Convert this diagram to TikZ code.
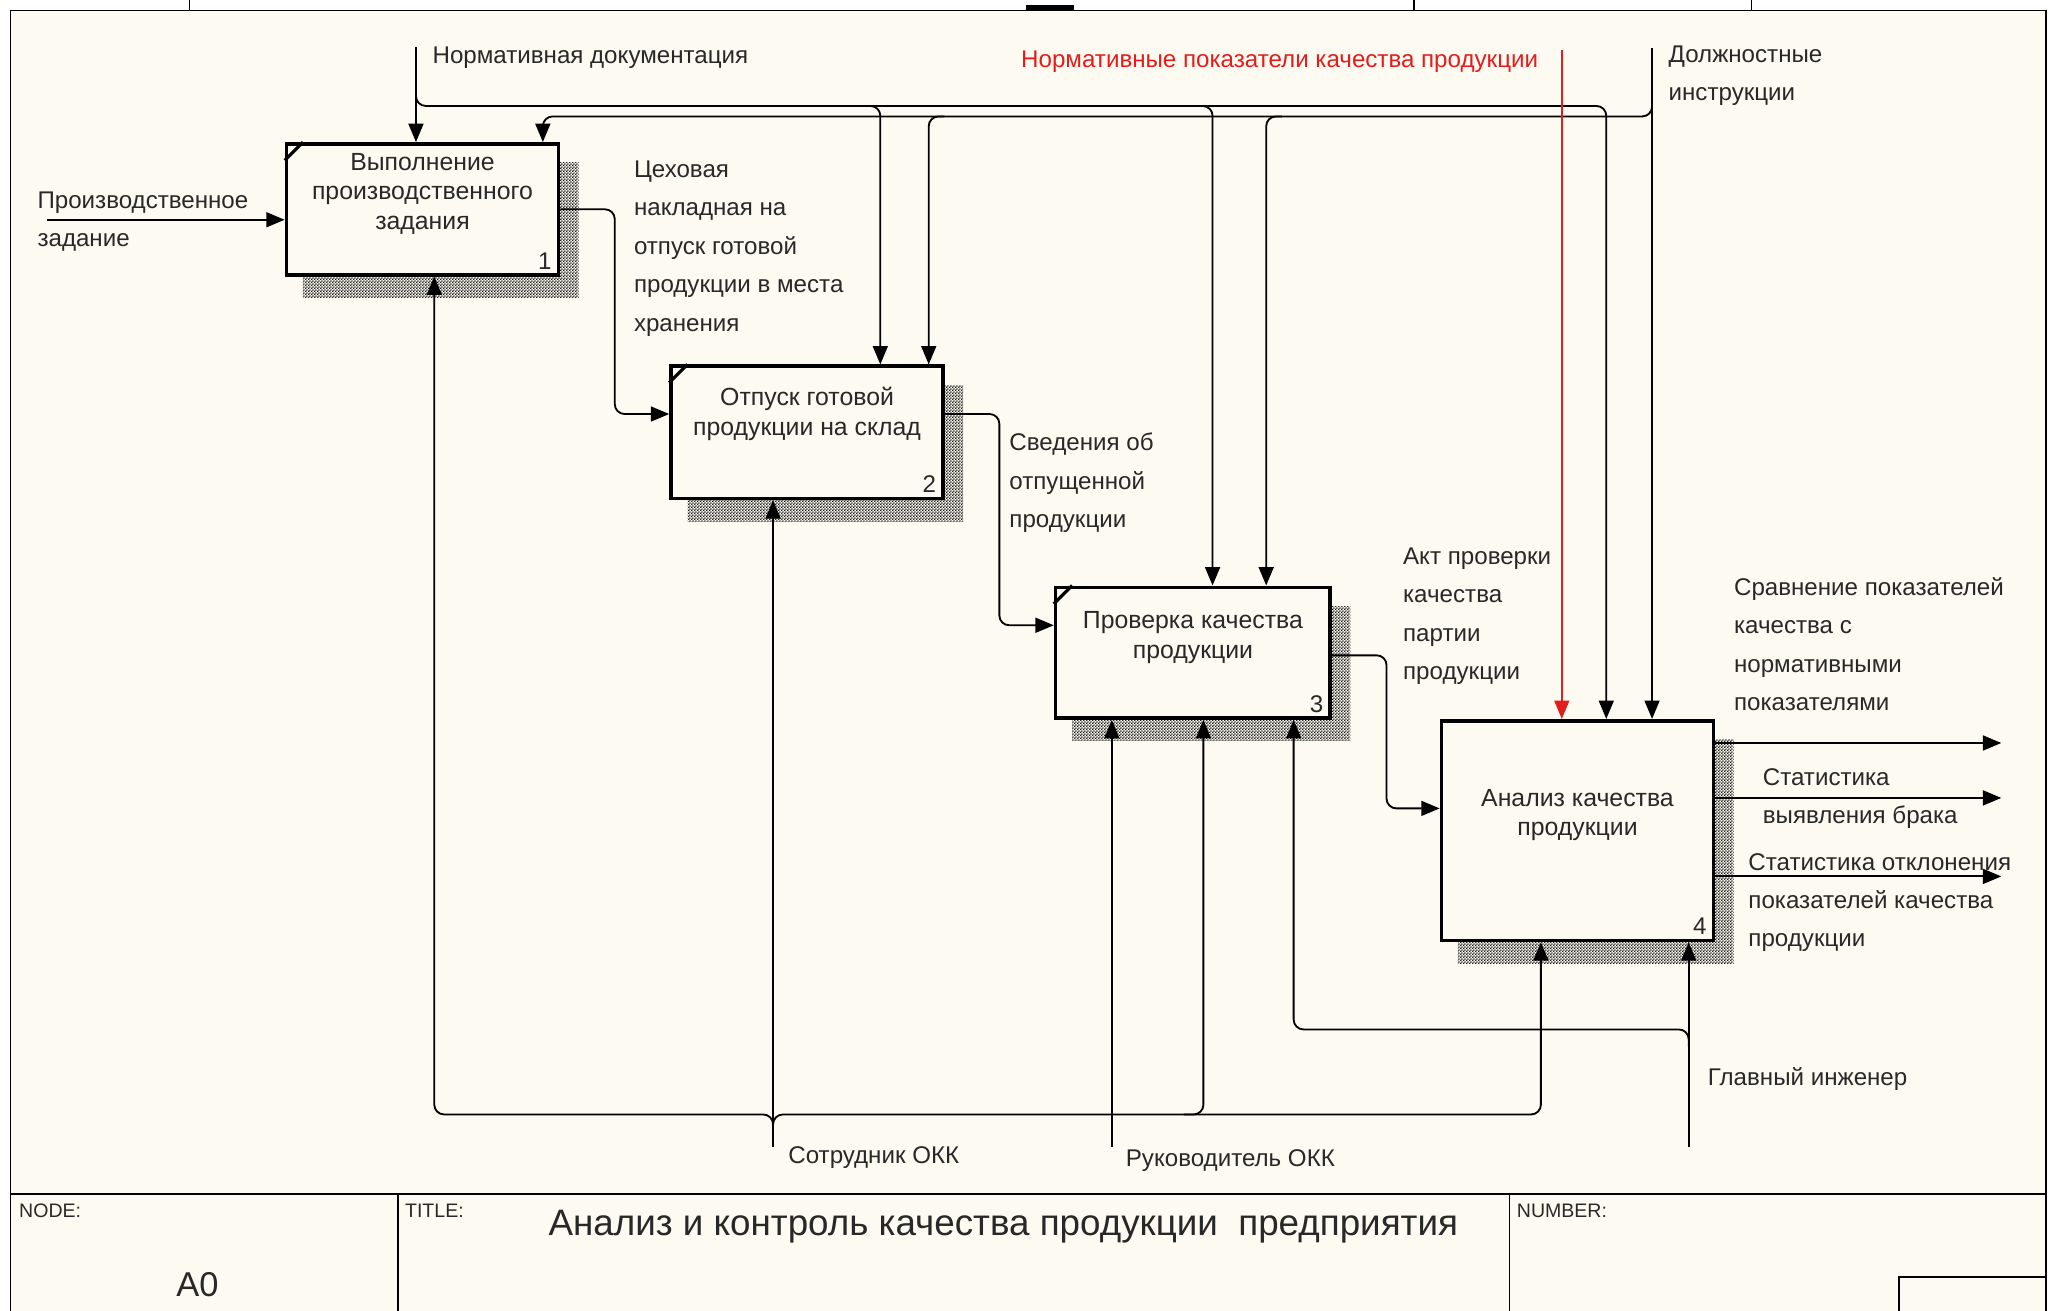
\documentclass[tikz,border=0pt]{standalone}
\usepackage{fontspec}
\setmainfont{Liberation Sans}
\usetikzlibrary{arrows.meta, patterns, backgrounds}
\definecolor{paper}{RGB}{253,250,241}
\definecolor{ink}{RGB}{40,40,40}
\definecolor{normred}{RGB}{228,28,28}
\pgfdeclarepatternformonly{checker}{\pgfqpoint{0pt}{0pt}}{\pgfqpoint{1.4pt}{1.4pt}}{\pgfqpoint{1.4pt}{1.4pt}}{%
  \pgfpathrectangle{\pgfqpoint{0pt}{0pt}}{\pgfqpoint{0.7pt}{0.7pt}}%
  \pgfpathrectangle{\pgfqpoint{0.7pt}{0.7pt}}{\pgfqpoint{0.7pt}{0.7pt}}%
  \pgfusepath{fill}}

\begin{document}
\begin{tikzpicture}[x=0.02cm, y=-0.02cm, > = {Triangle[length=8pt, width=6.5pt]}, line width=0.8pt,
		func/.style={draw, line width=1.6pt, fill=paper, minimum width=4.16cm, inner sep=0},
		ftext/.style={align=center, inner sep=0, text=ink, font=\fontsize{10.8}{12.8}\selectfont},
		fnum/.style={anchor=south east, inner sep=0, text=ink, font=\fontsize{10.5}{12}\selectfont},
		lbl/.style={align=left, anchor=west, inner sep=0, text=ink, font=\fontsize{10.5}{16.7}\selectfont},
		flow/.style={->, rounded corners=0.15cm},
		stamp/.style={anchor=west, inner sep=0, text=ink, font=\fontsize{8.5}{10}\selectfont}]
	\useasboundingbox (0,0) rectangle (1568,1002);
	
	% рамка листа
	\draw[line width=0.6pt] (145,0) -- (145,8) (1081,0) -- (1081,8) (1339,0) -- (1339,8);
	\fill (784,4) rectangle (821,8);
	\draw (8,1002) -- (8,8) -- (1564,8) -- (1564,1002);
	
	% работы
	\node[func, minimum height=2cm] (b1) at (323,160) {};
	\node[func, minimum height=2.02cm] (b2) at (617,330.5) {};
	\node[func, minimum width=4.2cm, minimum height=2cm] (b3) at (912,499) {};
	\node[func, minimum height=3.36cm] (b4) at (1206,635) {};
	\node[ftext] (t1) at ([yshift=0.24cm]b1.center) {Выполнение\\производственного\\задания};
	\node[ftext] (t2) at ([yshift=0.28cm]b2.center) {Отпуск готовой\\продукции на склад};
	\node[ftext] (t3) at ([yshift=0.23cm]b3.center) {Проверка качества\\продукции};
	\node[ftext] (t4) at ([yshift=0.24cm]b4.center) {Анализ качества\\продукции};
	\foreach \b/\n in {b1/1, b2/2, b3/3, b4/4}
		\node[fnum] (num\n) at ([xshift=-0.12cm, yshift=0.1cm]\b.south east) {\n};
	\foreach \b in {b1, b2, b3}
		\draw[line width=1.4pt] ([yshift=-0.28cm]\b.north west) -- ([xshift=0.28cm]\b.north west);
	
	% фон и тени
	\begin{scope}[on background layer]
		\fill[paper] (8,8) rectangle (1564,1002);
		\foreach \b in {b1, b2, b3, b4}
			\fill[pattern=checker, pattern color=black!90] ([xshift=0.28cm, yshift=-0.32cm]\b.south west) rectangle ([xshift=0.28cm, yshift=-0.32cm]\b.north east);
	\end{scope}
	
	% вход
	\coordinate (in1) at (36,168);
	\draw[->] (in1) -- (in1 -| b1.west);
	\node[lbl] (lin) at (28,169.5) {Производственное\\задание};
	
	% связи между работами
	\draw[flow] (b1.east) -- (470,160) |- ([yshift=0.28cm]b2.west);
	\node[lbl] (l12) at (484,190) {Цеховая\\накладная на\\отпуск готовой\\продукции в места\\хранения};
	\draw[flow] ([yshift=0.28cm]b2.east) -- (764,316.5) |- ([yshift=0.42cm]b3.west);
	\node[lbl] (l23) at (771,369) {Сведения об\\отпущенной\\продукции};
	\draw[flow] ([yshift=-0.04cm]b3.east) -- (1060,501) |- ([yshift=0.34cm]b4.west);
	\node[lbl] (l34) at (1072,471) {Акт проверки\\качества\\партии\\продукции};
	
	% выходы
	\coordinate (o1) at (1530,568);
	\coordinate (o2) at (1530,610);
	\coordinate (o3) at (1530,670);
	\foreach \o in {o1, o2, o3}
		\draw[->] (\o -| b4.east) -- (\o);
	\node[lbl] (lo1) at (1325,492.5) {Сравнение показателей\\качества с\\нормативными\\показателями};
	\node[lbl] (lo2) at (1347,610.5) {Статистика\\выявления брака};
	\node[lbl] (lo3) at (1336,690) {Статистика отклонения\\показателей качества\\продукции};
	
	% управление
	\coordinate (nd) at (318,36);
	\coordinate (np) at (1194,38);
	\coordinate (di) at (1263,37);
	\node[lbl] (lnd) at (330,44) {Нормативная документация};
	\node[lbl, text=normred] (lnp) at (780,47) {Нормативные показатели качества продукции};
	\node[lbl] (ldi) at (1275,58) {Должностные\\инструкции};
	\draw[->] (nd) -- (nd |- b1.north);
	\draw[flow] (nd) |- (1228,81) -- (1228,0 |- b4.north);
	\draw[flow] (660,81) -| (673,0 |- b2.north);
	\draw[flow] (914,81) -| (927,0 |- b3.north);
	\draw[->] (di) -- (di |- b4.north);
	\draw[flow] (di |- 0,78) |- (415,89) -- (415,0 |- b1.north);
	\draw[flow] (722,89) -| (710,0 |- b2.north);
	\draw[flow] (980,89) -| (968,0 |- b3.north);
	\draw[->, normred] (np) -- (np |- b4.north);
	
	% механизмы
	\coordinate (so) at (591,877);
	\coordinate (ru) at (850,877);
	\coordinate (gi) at (1291,877);
	\draw[->] (so) -- (so |- b2.south);
	\draw[flow] (591,862) |- (332,852) -- (332,0 |- b1.south);
	\draw[flow] (591,862) |- (1178,852) -- (1178,0 |- b4.south);
	\draw[flow] (905,852) -| (920,0 |- b3.south);
	\draw[->] (ru) -- (ru |- b3.south);
	\draw[->] (gi) -- (gi |- b4.south);
	\draw[flow] (gi |- 0,800) |- (989,787) -- (989,0 |- b3.south);
	\node[lbl] (lso) at (602,885) {Сотрудник ОКК};
	\node[lbl] (lru) at (860,887) {Руководитель ОКК};
	\node[lbl] (lgi) at (1305,825) {Главный инженер};
	
	% штамп
	\draw (8,913) -- (1564,913);
	\draw (304,913) -- (304,1002) (1154,913) -- (1154,1002);
	\draw (1452,1002) |- (1564,976);
	\node[stamp] (tnode) at (14,926) {NODE:};
	\node[stamp] (ttitle) at (309,926) {TITLE:};
	\node[stamp] (tnum) at (1159,926) {NUMBER:};
	\node[inner sep=0, text=ink, font=\fontsize{15}{17}\selectfont] (ta0) at (151,982) {A0};
	\node[inner sep=0, text=ink, font=\fontsize{16}{19}\selectfont] (ttext) at (767,938) {Анализ и контроль качества продукции\ \ предприятия};
\end{tikzpicture}
\end{document}
